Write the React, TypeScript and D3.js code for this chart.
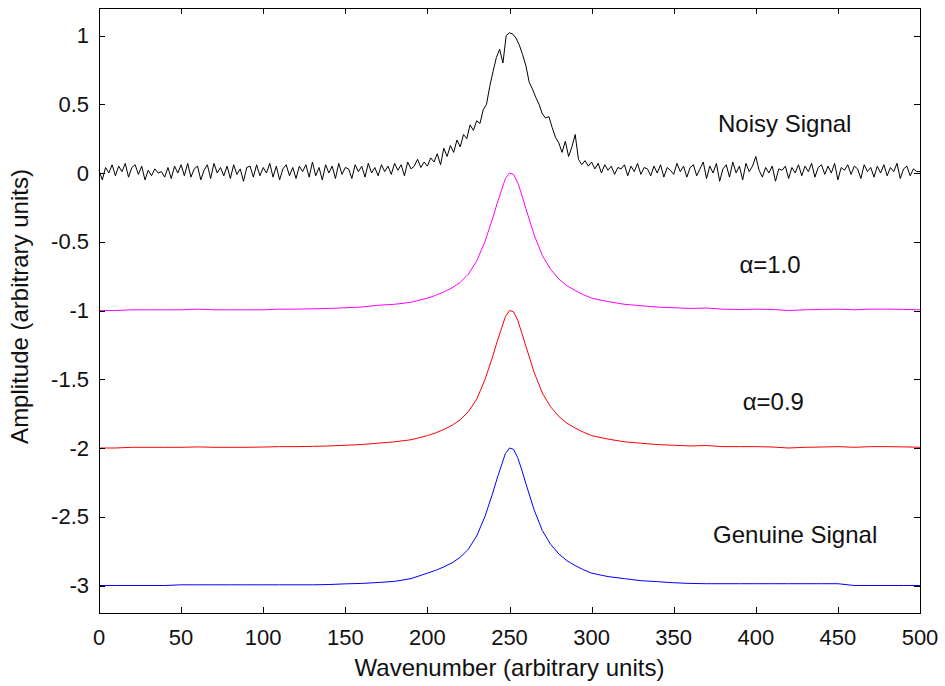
import React, { useEffect, useRef } from 'react';
import * as d3 from 'd3';

// noisy signal, one value every 2 wavenumber units (0..500)
const noisyX = d3.range(0, 501, 2);
const noisyY = [
  0.02, -0.05, 0.04, 0.00, 0.06, -0.02, 0.05, 0.01, 0.07, -0.03,
  0.04, 0.06, -0.01, 0.05, -0.05, 0.02, -0.02, 0.03, 0.00, 0.01,
  -0.03, 0.04, -0.04, 0.05, 0.00, 0.06, -0.02, 0.07, -0.03, 0.03,
  0.05, -0.05, 0.02, 0.06, -0.04, 0.07, 0.00, 0.04, -0.02, 0.05,
  -0.04, 0.06, -0.01, 0.03, -0.06, 0.04, 0.05, -0.03, 0.06, -0.02,
  0.04, 0.00, 0.07, -0.03, 0.05, -0.05, 0.03, 0.06, -0.02, 0.04,
  -0.04, 0.05, 0.01, 0.06, -0.03, 0.08, -0.02, 0.04, -0.05, 0.06,
  0.00, 0.05, -0.04, 0.07, -0.01, 0.04, 0.03, -0.04, 0.06, 0.01,
  0.05, -0.03, 0.07, 0.00, 0.04, -0.02, 0.06, 0.01, 0.05, -0.01,
  0.07, 0.02, 0.06, -0.02, 0.08, 0.03, 0.05, 0.10, 0.04, 0.08,
  0.05, 0.11, 0.08, 0.14, 0.06, 0.18, 0.12, 0.20, 0.15, 0.24,
  0.19, 0.28, 0.25, 0.35, 0.31, 0.38, 0.36, 0.46, 0.50, 0.63,
  0.74, 0.84, 0.90, 0.80, 1.00, 1.02, 1.01, 0.98, 0.93, 0.86,
  0.78, 0.66, 0.61, 0.55, 0.50, 0.43, 0.40, 0.41, 0.33, 0.26,
  0.22, 0.15, 0.23, 0.12, 0.19, 0.28, 0.10, 0.06, 0.09, 0.05,
  0.08, 0.03, 0.07, 0.00, 0.06, 0.02, 0.05, -0.01, 0.04, 0.03,
  0.06, -0.02, 0.05, 0.01, 0.07, -0.01, 0.04, 0.03, -0.02, 0.05,
  0.00, 0.06, -0.03, 0.04, 0.02, -0.01, 0.07, 0.01, 0.05, -0.03,
  0.04, 0.06, -0.02, 0.03, 0.08, -0.04, 0.05, 0.00, 0.07, -0.06,
  0.03, 0.06, -0.03, 0.08, 0.00, 0.05, -0.05, 0.07, 0.01, 0.05,
  0.12, 0.02, -0.03, 0.04, 0.00, 0.05, -0.06, 0.03, 0.02, 0.05,
  -0.04, 0.04, 0.00, 0.06, -0.02, 0.05, 0.01, 0.07, -0.03, 0.04,
  0.06, -0.01, 0.05, 0.00, 0.07, -0.05, 0.04, 0.02, 0.06, -0.01,
  0.05, 0.03, -0.04, 0.06, 0.01, 0.04, -0.03, 0.05, 0.00, 0.06,
  -0.02, 0.04, 0.01, 0.07, -0.04, 0.03, 0.05, -0.02, 0.03, 0.01,
  0.01,
];

// smooth curves share one wavenumber grid (denser around the peak)
const smoothX = [
  0, 10, 20, 30, 40, 50, 60, 70, 80, 90, 100, 110, 120, 130, 140, 150, 160, 170, 180, 190, 200,
  205, 210, 215, 220, 225, 230, 235, 240, 242.5, 245, 247.5, 250, 252.5, 255, 257.5, 260,
  265, 270, 275, 280, 285, 290, 295, 300,
  310, 320, 330, 340, 350, 360, 370, 380, 390, 400, 410, 420, 430, 440, 450, 460, 470, 480, 490, 500,
];

const alpha10Y = [
  -1.000, -1.000, -0.995, -0.995, -0.995, -0.995, -0.990, -0.995, -0.995, -0.995, -0.995,
  -0.990, -0.990, -0.988, -0.985, -0.980, -0.975, -0.962, -0.955, -0.940, -0.910,
  -0.890, -0.865, -0.835, -0.795, -0.735, -0.640, -0.500, -0.320, -0.220, -0.130, -0.040,
  0.000, -0.010, -0.070, -0.160, -0.260,
  -0.450, -0.600, -0.700, -0.770, -0.820, -0.855, -0.885, -0.910,
  -0.935, -0.955, -0.965, -0.975, -0.980, -0.985, -0.982, -0.990, -0.993, -0.990,
  -0.993, -1.000, -0.995, -0.992, -0.990, -0.995, -0.990, -0.990, -0.992, -0.995,
];

const alpha09Y = [
  -2.000, -2.000, -1.995, -1.995, -1.995, -1.995, -1.992, -1.995, -1.995, -1.995, -1.993,
  -1.990, -1.990, -1.988, -1.985, -1.980, -1.975, -1.965, -1.955, -1.940, -1.910,
  -1.890, -1.865, -1.835, -1.795, -1.735, -1.645, -1.505, -1.325, -1.225, -1.135, -1.045,
  -1.000, -1.010, -1.070, -1.165, -1.260,
  -1.450, -1.600, -1.700, -1.770, -1.820, -1.855, -1.885, -1.910,
  -1.935, -1.955, -1.965, -1.975, -1.980, -1.985, -1.982, -1.990, -1.990, -1.990,
  -1.993, -2.000, -1.995, -1.993, -1.990, -1.995, -1.990, -1.990, -1.992, -1.995,
];

const genuineY = [
  -3.000, -3.000, -3.000, -3.000, -3.000, -2.995, -2.995, -2.995, -2.995, -2.995, -2.995,
  -2.995, -2.995, -2.995, -2.993, -2.988, -2.985, -2.978, -2.970, -2.950, -2.910,
  -2.890, -2.865, -2.835, -2.795, -2.735, -2.640, -2.500, -2.320, -2.220, -2.130, -2.040,
  -2.000, -2.010, -2.070, -2.160, -2.260,
  -2.450, -2.600, -2.700, -2.770, -2.820, -2.855, -2.885, -2.910,
  -2.935, -2.950, -2.965, -2.972, -2.980, -2.985, -2.987, -2.987, -2.987, -2.987,
  -2.987, -2.987, -2.987, -2.987, -2.987, -3.000, -3.000, -3.000, -3.000, -3.000,
];

const xTicks = [0, 50, 100, 150, 200, 250, 300, 350, 400, 450, 500];
const yTicks = [-3, -2.5, -2, -1.5, -1, -0.5, 0, 0.5, 1];

const labels = [
  { text: 'Noisy Signal', x: 377, y: 0.30 },
  { text: 'α=1.0', x: 390, y: -0.73 },
  { text: 'α=0.9', x: 392, y: -1.72 },
  { text: 'Genuine Signal', x: 374, y: -2.69 },
];

const FONT = '"Liberation Sans", Arial, Helvetica, sans-serif';

const App = () => {
  const svgRef = useRef<SVGSVGElement>(null);

  useEffect(() => {
    const svg = d3.select(svgRef.current);
    svg.selectAll('*').remove();

    const W = 945;
    const H = 686;
    const margin = { top: 8, right: 25, bottom: 73, left: 99 };

    const x = d3.scaleLinear().domain([0, 500]).range([margin.left, W - margin.right]);
    const y = d3.scaleLinear().domain([-3.2, 1.2]).range([H - margin.bottom, margin.top]);

    const x0 = margin.left;
    const x1 = W - margin.right;
    const y0 = H - margin.bottom;
    const y1 = margin.top;

    svg.append('rect')
      .attr('width', W)
      .attr('height', H)
      .attr('fill', 'white');

    const line = d3.line<[number, number]>()
      .x(d => x(d[0]))
      .y(d => y(d[1]));

    const series = [
      { xs: noisyX, ys: noisyY, color: '#000000' },
      { xs: smoothX, ys: alpha10Y, color: '#ff00ff' },
      { xs: smoothX, ys: alpha09Y, color: '#ff0000' },
      { xs: smoothX, ys: genuineY, color: '#0000ff' },
    ];

    series.forEach(s => {
      svg.append('path')
        .datum(s.xs.map((v, i) => [v, s.ys[i]] as [number, number]))
        .attr('fill', 'none')
        .attr('stroke', s.color)
        .attr('stroke-width', 1)
        .attr('stroke-linejoin', 'round')
        .attr('d', line);
    });

    // MATLAB-style inward ticks on all four sides
    const tickLen = 6;
    const ticks = svg.append('g').attr('stroke', 'black').attr('stroke-width', 1);
    xTicks.forEach(t => {
      const px = Math.round(x(t)) + 0.5;
      ticks.append('line').attr('x1', px).attr('x2', px).attr('y1', y0).attr('y2', y0 - tickLen);
      ticks.append('line').attr('x1', px).attr('x2', px).attr('y1', y1).attr('y2', y1 + tickLen);
    });
    yTicks.forEach(t => {
      const py = Math.round(y(t)) + 0.5;
      ticks.append('line').attr('x1', x0).attr('x2', x0 + tickLen).attr('y1', py).attr('y2', py);
      ticks.append('line').attr('x1', x1).attr('x2', x1 - tickLen).attr('y1', py).attr('y2', py);
    });

    svg.append('rect')
      .attr('x', Math.round(x0) + 0.5)
      .attr('y', Math.round(y1) + 0.5)
      .attr('width', Math.round(x1 - x0))
      .attr('height', Math.round(y0 - y1))
      .attr('fill', 'none')
      .attr('stroke', 'black')
      .attr('stroke-width', 1);

    const text = svg.append('g')
      .attr('font-family', FONT)
      .attr('fill', '#111');

    xTicks.forEach(t => {
      text.append('text')
        .attr('x', x(t))
        .attr('y', y0 + 32)
        .attr('font-size', 22)
        .attr('text-anchor', 'middle')
        .text(t);
    });
    yTicks.forEach(t => {
      text.append('text')
        .attr('x', x0 - 10)
        .attr('y', y(t))
        .attr('dy', '0.35em')
        .attr('font-size', 22)
        .attr('text-anchor', 'end')
        .text(t);
    });

    text.append('text')
      .attr('x', (x0 + x1) / 2)
      .attr('y', H - 10)
      .attr('font-size', 24)
      .attr('text-anchor', 'middle')
      .text('Wavenumber (arbitrary units)');

    text.append('text')
      .attr('transform', `translate(28,${(y0 + y1) / 2 - 4}) rotate(-90)`)
      .attr('font-size', 24)
      .attr('text-anchor', 'middle')
      .text('Amplitude (arbitrary units)');

    labels.forEach(l => {
      text.append('text')
        .attr('x', x(l.x))
        .attr('y', y(l.y))
        .attr('font-size', 24)
        .text(l.text);
    });
  }, []);

  return (
    <svg
      ref={svgRef}
      width={945}
      height={686}
      style={{ position: 'absolute', left: 0, top: 0 }}
    />
  );
};

export default App;
